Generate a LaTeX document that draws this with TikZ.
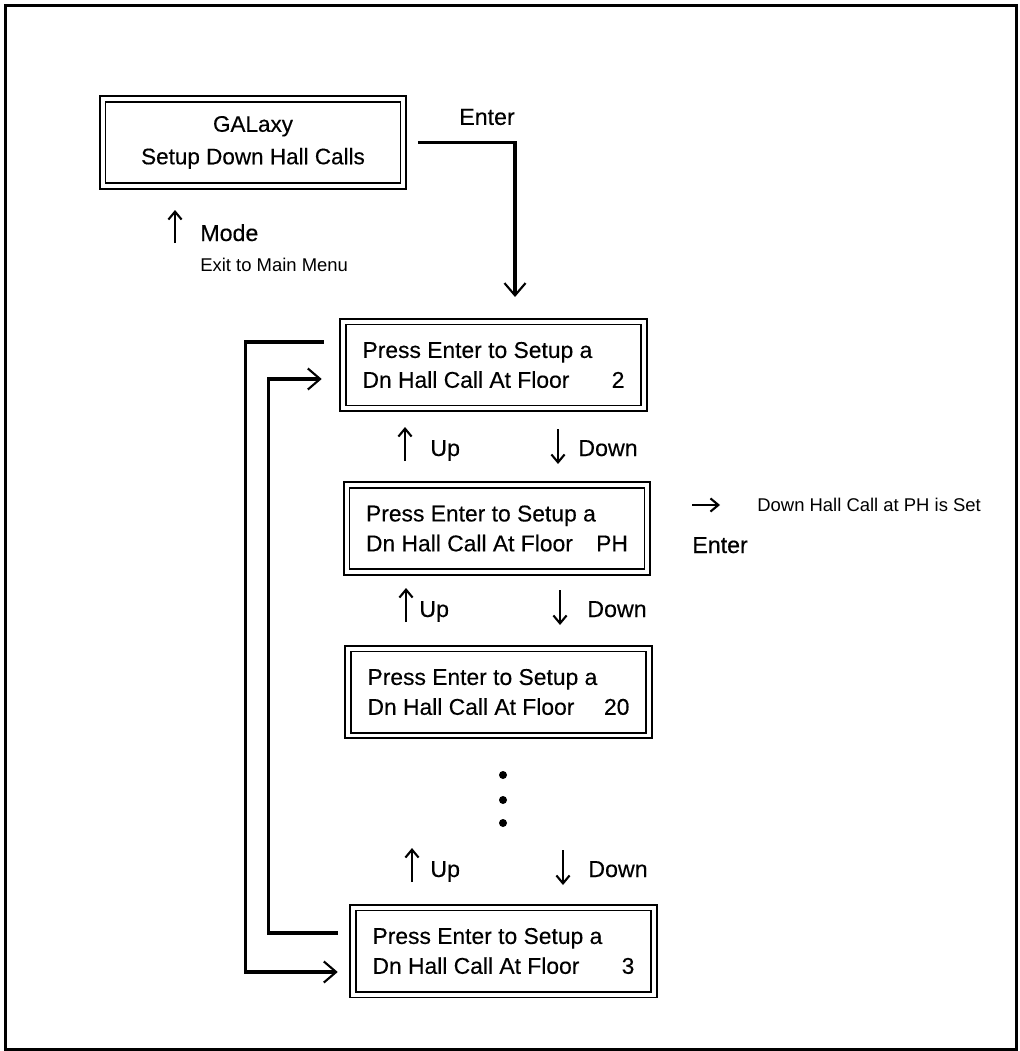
\documentclass[tikz,border=0pt]{standalone}
\usepackage{fontspec}
\setmainfont{Liberation Sans}
\newfontfamily\lcdfont{Liberation Sans}[FakeBold=0.3]
\usepackage{tikz}
\usetikzlibrary{arrows.meta,calc}
\newcommand{\flrtext}[1]{Press Enter to Setup a\\\makebox[5.24cm][l]{Dn Hall Call At Floor\hfill #1}}

\begin{document}
\begin{tikzpicture}[x=0.02cm,y=-0.02cm,
  lcd/.style={draw,double,double distance=0.08cm,line width=0.9pt,
    minimum width=6.02cm,minimum height=1.74cm,inner sep=0pt,align=left,
    font=\lcdfont\fontsize{13}{17}\selectfont},
  lbl/.style={inner sep=0pt,font=\lcdfont\fontsize{13.2}{15}\selectfont},
  note/.style={inner sep=0pt,font=\fontsize{10.5}{12}\selectfont},
  conn/.style={line width=1.8pt,-{Straight Barb[length=7pt,width=12pt,line width=1.2pt]}},
  key/.style={line width=1.4pt,-{Straight Barb[length=4.5pt,width=7.5pt,line width=1.2pt]}}]
\useasboundingbox (0,0) rectangle (1019,1051);
\draw[line width=0.06cm] (5.5,5.5) rectangle (1016,1049);
%% menu entry
\node[lcd,align=center,font=\lcdfont\fontsize{12.8}{18.5}\selectfont] (gal) at (253,142.5) {GALaxy\\Setup Down Hall Calls};
\node[lbl] (ent) at (487,117) {Enter};
\coordinate (e1) at (515,297);
\draw[conn] ([xshift=0.27cm]gal.east) -| (e1);
\node[lbl,anchor=base west] (mode) at (200,241) {Mode};
\draw[key] (175,243) -- (175,210);
\node[note,anchor=base west] (exit) at (200,271) {Exit to Main Menu};
%% floors
\node[lcd] (f2) at (493.5,365) {\flrtext{2}};
\node[lcd] (fph) at (497,528.5) {\flrtext{PH}};
\node[lcd] (f20) at (498.5,692) {\flrtext{20}};
\node[lcd] (f3) at (503.5,951) {\flrtext{3}};
\foreach \y/\ax/\ux/\bx/\dx [count=\i] in {456/405/430/558/578,617/406/419/560/587,877/412/430/563/588}{
  \node[lbl,anchor=base west] (up\i) at (\ux,\y) {Up};
  \node[lbl,anchor=base west] (dn\i) at (\dx,\y) {Down};
  \draw[key] (\ax,\y+5) -- (\ax,\y-29);
  \draw[key] (\bx,\y-27) -- (\bx,\y+8);
}
\foreach \y in {775,800,823}
  \fill (503,\y) circle[radius=0.08cm];
%% enter at PH
\draw[key] (692,505) -- (720,505);
\node[note,anchor=base west] (set) at (757,511) {Down Hall Call at PH is Set};
\node[lbl,anchor=base west] (ent2) at (692,553) {Enter};
%% wrap around
\draw[conn] ($(f2.west)+(-18.5,-23)$) -- ++(-78,0) |- ($(f3.west)+(-14.5,21)$);
\draw[conn] ($(f3.west)+(-14.5,-18)$) -- ++(-69,0) |- ($(f2.west)+(-20.5,14)$);
\end{tikzpicture}
\end{document}
